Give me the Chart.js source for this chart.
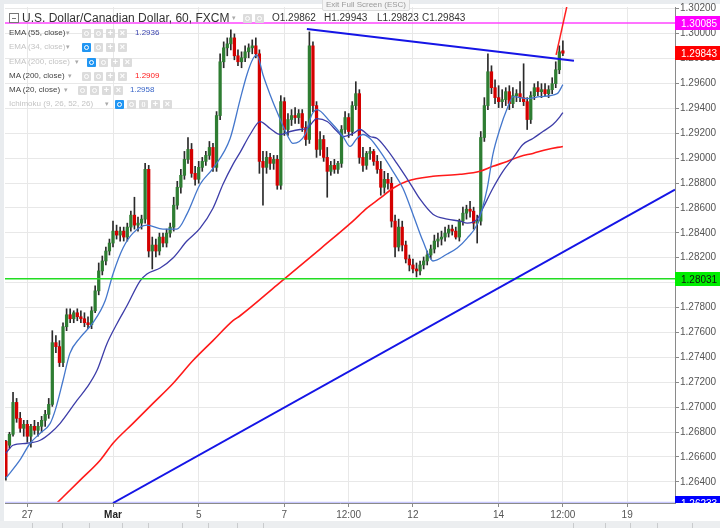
<!DOCTYPE html>
<html lang="en">
<head>
<meta charset="UTF-8">
<title>U.S. Dollar/Canadian Dollar, 60, FXCM</title>
<script src="https://cdn.jsdelivr.net/npm/chart.js"></script>
<style>
  html, body { margin: 0; padding: 0; background: #fff; }
  #wrap { position: relative; width: 720px; height: 528px; overflow: hidden; font-family: "Liberation Sans", Arial, sans-serif; }
  #chart { position: absolute; left: 0; top: 0; }
  .abs { position: absolute; white-space: nowrap; }
  .title { left: 22px; top: 11px; font-size: 12px; line-height: 14px; color: #333; }
  .ohlc { top: 12px; font-size: 10px; line-height: 12px; color: #333; }
  .esc { left: 322px; top: -4px; width: 86px; height: 13px; background: #f4f4f4; border: 1px solid #dcdcdc; border-radius: 2px; color: #9a9a9a; font-size: 8px; line-height: 15px; text-align: center; }
  .lg { font-size: 8px; line-height: 10px; color: #444; }
  .lg.off { color: #c3c3c3; }
  .caret { font-size: 7px; line-height: 10px; color: #aaa; }
  .ic { position: absolute; width: 9px; height: 9px; background: #dcdcdc; border-radius: 1px; color: #fff; font-size: 9px; line-height: 9px; text-align: center; font-weight: bold; }
  .ic.on { background: #2196f3; }
  .ring { position: absolute; left: 2px; top: 2px; width: 3px; height: 3px; border: 1px solid #fff; border-radius: 50%; }
  .box { left: 9px; top: 13px; width: 8px; height: 8px; border: 1px solid #777; }
  .box:after { content: ""; position: absolute; left: 2px; top: 4px; width: 4px; height: 1px; background: #777; }
</style>
</head>
<body>
<div id="wrap">
  <canvas id="chart" width="720" height="528"></canvas>
  <div class="abs box"></div>
  <div class="abs title">U.S. Dollar/Canadian Dollar, 60, FXCM</div>
  <div class="abs caret" style="left:232px; top:13px;">▾</div>
  <div class="abs ic" style="left:243px; top:14px;"><span class="ring"></span></div>
  <div class="abs ic" style="left:255px; top:14px;"><span class="ring"></span></div>
  <div class="abs ohlc" style="left:272px;">O1.29862</div>
  <div class="abs ohlc" style="left:324px;">H1.29943</div>
  <div class="abs ohlc" style="left:377px;">L1.29823</div>
  <div class="abs ohlc" style="left:422px;">C1.29843</div>
  <div class="abs esc">Exit Full Screen (ESC)</div>
  <div id="legend"></div>
</div>

<script>
// 2-hour candles, index 0 = 26 Feb 12:00, 12 bars per trading day
const opens = [1.26726,1.26694,1.26782,1.27038,1.26910,1.26830,1.26862,1.26766,1.26846,1.26814,
  1.26846,1.26894,1.26942,1.27022,1.27518,1.27486,1.27358,1.27646,1.27742,1.27710,
  1.27758,1.27726,1.27710,1.27678,1.27662,1.27774,1.27934,1.28094,1.28174,1.28254,
  1.28318,1.28414,1.28382,1.28414,1.28366,1.28446,1.28542,1.28462,1.28478,1.28510,
  1.28910,1.28254,1.28302,1.28254,1.28366,1.28318,1.28398,1.28446,1.28622,1.28766,
  1.28862,1.28990,1.29070,1.28878,1.28830,1.28926,1.28974,1.29022,1.29086,1.28926,
  1.29342,1.29774,1.29886,1.29918,1.29966,1.29822,1.29774,1.29806,1.29854,1.29886,
  1.29902,1.29838,1.28974,1.28926,1.29006,1.28958,1.28990,1.28782,1.29454,1.29230,
  1.29310,1.29342,1.29326,1.29358,1.29246,1.29150,1.29902,1.29422,1.29070,1.29150,
  1.29006,1.28894,1.28942,1.28910,1.28958,1.29230,1.29326,1.29214,1.29422,1.29518,
  1.29006,1.28942,1.29038,1.29054,1.28974,1.28910,1.28766,1.28830,1.28798,1.28494,
  1.28286,1.28446,1.28302,1.28190,1.28142,1.28110,1.28094,1.28142,1.28174,1.28222,
  1.28270,1.28334,1.28350,1.28366,1.28398,1.28430,1.28414,1.28366,1.28494,1.28558,
  1.28590,1.28574,1.28478,1.28494,1.29166,1.29422,1.29694,1.29566,1.29486,1.29454,
  1.29470,1.29534,1.29438,1.29502,1.29518,1.29486,1.29454,1.29310,1.29502,1.29566,
  1.29534,1.29550,1.29518,1.29550,1.29598,1.29710,1.29862];
const highs = [1.26734,1.26798,1.27118,1.27070,1.26958,1.26894,1.26894,1.26862,1.26894,1.26878,
  1.26926,1.26974,1.27070,1.27614,1.27574,1.27534,1.27678,1.27790,1.27790,1.27774,
  1.27790,1.27774,1.27758,1.27726,1.27806,1.27974,1.28158,1.28214,1.28286,1.28350,
  1.28494,1.28462,1.28446,1.28446,1.28478,1.28574,1.28686,1.28526,1.28542,1.28958,
  1.28942,1.28366,1.28350,1.28398,1.28398,1.28430,1.28478,1.28686,1.28814,1.28910,
  1.29054,1.29166,1.29118,1.28934,1.28974,1.29006,1.29054,1.29134,1.29118,1.29374,
  1.29838,1.29934,1.29966,1.30030,1.29998,1.29870,1.29854,1.29902,1.29918,1.29950,
  1.29966,1.29870,1.29054,1.29054,1.29038,1.29022,1.29022,1.29502,1.29486,1.29358,
  1.29390,1.29406,1.29390,1.29390,1.29294,1.30014,1.29934,1.29454,1.29214,1.29182,
  1.29086,1.28974,1.28990,1.28974,1.29262,1.29374,1.29358,1.29454,1.29614,1.29550,
  1.29086,1.29054,1.29086,1.29070,1.29022,1.28974,1.28894,1.28878,1.28846,1.28542,
  1.28510,1.28494,1.28334,1.28222,1.28190,1.28158,1.28174,1.28206,1.28254,1.28302,
  1.28382,1.28398,1.28414,1.28446,1.28462,1.28462,1.28446,1.28510,1.28606,1.28622,
  1.28654,1.28606,1.28542,1.29214,1.29486,1.29838,1.29742,1.29630,1.29582,1.29550,
  1.29566,1.29582,1.29566,1.29550,1.29614,1.29758,1.29486,1.29534,1.29598,1.29614,
  1.29598,1.29598,1.29582,1.29646,1.29774,1.29902,1.29943];
const lows = [1.26414,1.26670,1.26766,1.26878,1.26798,1.26766,1.26718,1.26678,1.26782,1.26766,
  1.26798,1.26846,1.26910,1.27006,1.27438,1.27326,1.27326,1.27614,1.27678,1.27678,
  1.27694,1.27678,1.27646,1.27630,1.27630,1.27758,1.27902,1.28062,1.28142,1.28222,
  1.28286,1.28350,1.28334,1.28334,1.28334,1.28414,1.28430,1.28414,1.28430,1.28478,
  1.28206,1.28110,1.28206,1.28222,1.28286,1.28286,1.28366,1.28414,1.28590,1.28718,
  1.28830,1.28958,1.28846,1.28782,1.28798,1.28894,1.28942,1.28990,1.28894,1.28894,
  1.29310,1.29726,1.29822,1.29870,1.29790,1.29742,1.29726,1.29774,1.29806,1.29838,
  1.29806,1.28878,1.28622,1.28878,1.28910,1.28910,1.28750,1.28750,1.29182,1.29182,
  1.29262,1.29278,1.29278,1.29214,1.29102,1.29118,1.29374,1.29006,1.29022,1.28974,
  1.28686,1.28862,1.28878,1.28878,1.28926,1.29198,1.29166,1.29182,1.29390,1.28958,
  1.28894,1.28910,1.28990,1.28942,1.28878,1.28702,1.28718,1.28750,1.28446,1.28206,
  1.28254,1.28254,1.28158,1.28094,1.28078,1.28046,1.28062,1.28110,1.28142,1.28190,
  1.28238,1.28286,1.28302,1.28334,1.28366,1.28382,1.28350,1.28334,1.28462,1.28510,
  1.28526,1.28430,1.28318,1.28462,1.29134,1.29390,1.29518,1.29438,1.29406,1.29406,
  1.29422,1.29390,1.29406,1.29454,1.29454,1.29422,1.29230,1.29278,1.29470,1.29502,
  1.29486,1.29502,1.29486,1.29518,1.29566,1.29678,1.29823];
const closes = [1.26446,1.26782,1.27038,1.26910,1.26830,1.26862,1.26766,1.26846,1.26814,1.26846,
  1.26894,1.26942,1.27022,1.27518,1.27486,1.27358,1.27646,1.27742,1.27710,1.27758,
  1.27726,1.27710,1.27678,1.27662,1.27774,1.27934,1.28094,1.28174,1.28254,1.28318,
  1.28414,1.28382,1.28414,1.28366,1.28446,1.28542,1.28462,1.28478,1.28510,1.28910,
  1.28254,1.28302,1.28254,1.28366,1.28318,1.28398,1.28446,1.28622,1.28766,1.28862,
  1.28990,1.29070,1.28878,1.28830,1.28926,1.28974,1.29022,1.29086,1.28926,1.29342,
  1.29774,1.29886,1.29918,1.29966,1.29822,1.29774,1.29806,1.29854,1.29886,1.29902,
  1.29838,1.28974,1.28926,1.29006,1.28958,1.28990,1.28782,1.29454,1.29230,1.29310,
  1.29342,1.29326,1.29358,1.29246,1.29150,1.29902,1.29422,1.29070,1.29150,1.29006,
  1.28894,1.28942,1.28910,1.28958,1.29230,1.29326,1.29214,1.29422,1.29518,1.29006,
  1.28942,1.29038,1.29054,1.28974,1.28910,1.28766,1.28830,1.28798,1.28494,1.28286,
  1.28446,1.28302,1.28190,1.28142,1.28110,1.28094,1.28142,1.28174,1.28222,1.28270,
  1.28334,1.28350,1.28366,1.28398,1.28430,1.28414,1.28366,1.28494,1.28558,1.28590,
  1.28574,1.28478,1.28494,1.29166,1.29422,1.29694,1.29566,1.29486,1.29454,1.29470,
  1.29534,1.29438,1.29502,1.29518,1.29486,1.29454,1.29310,1.29502,1.29566,1.29534,
  1.29550,1.29518,1.29550,1.29598,1.29710,1.29854,1.29843];

// indicator lines, read at a set of bar positions
const ma20Idx = [0,3.9,6.8,9.6,12.4,13.8,16,17.9,20.8,24.4,27.8,30,32.8,35.6,39.5,44,47.9,50.7,54.4,58,
  62.8,65.6,67.5,69.2,70.3,72,74,75.9,79,80.4,83.8,85.7,87.1,90.8,94.4,96.4,98.3,100,102,104.8,
  108.4,111.2,114,116.8,119.6,123.6,126.4,129.2,132,134.8,136.4,138.4,140.4,142.1,146,149.6,154.4,156];
const ma20 = [1.26430,1.26574,1.26710,1.26790,1.26870,1.26974,1.27214,1.27430,1.27558,1.27678,
  1.27854,1.28070,1.28278,1.28398,1.28462,1.28430,1.28430,1.28550,1.28790,1.28918,
  1.29158,1.29470,1.29670,1.29798,1.29830,1.29670,1.29510,1.29374,1.29174,1.29118,
  1.29190,1.29350,1.29390,1.29294,1.29174,1.29094,1.29158,1.29190,1.29158,1.29054,
  1.28894,1.28758,1.28550,1.28334,1.28174,1.28230,1.28278,1.28358,1.28470,1.28758,
  1.29030,1.29238,1.29398,1.29494,1.29478,1.29494,1.29518,1.29590];
const ema55Idx = [0,2,5.9,9.6,12.4,15.2,19.9,22.7,25.5,28.3,31.1,33.9,37.6,39.5,43.2,46.8,50.7,54.4,58,60.8,
  63.6,65.6,68.4,71.2,74,76.8,79.6,82.4,84.3,87.1,90,92.8,94.4,97.2,99.2,102,104,106.7,109.5,113.2,
  116,119.6,123.6,127.2,129.2,132,133.6,136.4,139.2,142,144.8,147.6,150.4,153.2,155.2,156];
const ema55 = [1.26630,1.26694,1.26710,1.26734,1.26790,1.26870,1.27054,1.27158,1.27294,1.27510,
  1.27670,1.27814,1.28014,1.28070,1.28118,1.28198,1.28334,1.28438,1.28598,1.28790,
  1.28950,1.29046,1.29190,1.29294,1.29238,1.29190,1.29214,1.29230,1.29238,1.29318,
  1.29294,1.29214,1.29174,1.29198,1.29230,1.29174,1.29158,1.29070,1.28958,1.28798,
  1.28670,1.28550,1.28510,1.28494,1.28478,1.28510,1.28598,1.28758,1.28894,1.28998,
  1.29110,1.29158,1.29214,1.29270,1.29334,1.29366];
const ma200Idx = [12,16,20.8,26.4,30,35.6,41.2,46.8,52.4,58,63.6,65.6,76,88,97.2,101.1,104.8,108.4,112.3,119.6,
  127.2,132.8,136.4,140.4,144,147.6,151.6,156];
const ma200 = [1.26166,1.26278,1.26414,1.26574,1.26710,1.26870,1.27030,1.27190,1.27374,1.27534,
  1.27694,1.27734,1.27982,1.28270,1.28494,1.28598,1.28678,1.28758,1.28814,1.28854,
  1.28870,1.28894,1.28934,1.28974,1.29014,1.29038,1.29070,1.29094];

// drawn trend lines and horizontal levels
const resistanceIdx = [84.3, 159.1];
const resistance = [1.30038, 1.29782];
const supportIdx = [30, 187.4];
const support = [1.26230, 1.28748];
const breakoutIdx = [154.1, 157.2];
const breakout = [1.29830, 1.30230];
const levelHigh = 1.30085;
const levelLow = 1.28031;
const levelBottom = 1.26233;
const lastClose = 1.29843;

// axes
const timeTickIdx = [6, 30, 54, 78, 96, 114, 138, 156, 174];
const timeLabels = ['27', 'Mar', '5', '7', '12:00', '12', '14', '12:00', '19'];
const priceTicks = [1.264, 1.266, 1.268, 1.270, 1.272, 1.274, 1.276, 1.278, 1.280, 1.282,
  1.284, 1.286, 1.288, 1.290, 1.292, 1.294, 1.296, 1.298, 1.300, 1.302];
const xMin = -0.25, xMax = 187.4;
const yMin = 1.26230, yMax = 1.30214;

// legend rows (text, value)
const legendRows = [
  { text: 'EMA (55, close)', value: '1.2936', off: false },
  { text: 'EMA (34, close)', value: '', off: true },
  { text: 'EMA (200, close)', value: '', off: true },
  { text: 'MA (200, close)', value: '1.2909', off: false },
  { text: 'MA (20, close)', value: '1.2958', off: false },
  { text: 'Ichimoku (9, 26, 52, 26)', value: '', off: true }
];
const legendLayout = [
  { top: 28, caret: 66, icons: 82, vx: 135, color: '#3d46b0', kinds: ['eye', 'gear', 'plus', 'x'] },
  { top: 42, caret: 66, icons: 82, vx: 0, color: '', kinds: ['eyeOn', 'gear', 'plus', 'x'] },
  { top: 57, caret: 75, icons: 87, vx: 0, color: '', kinds: ['eyeOn', 'gear', 'plus', 'x'] },
  { top: 71, caret: 68, icons: 82, vx: 135, color: '#ff1a1a', kinds: ['eye', 'gear', 'plus', 'x'] },
  { top: 85, caret: 64, icons: 78, vx: 130, color: '#3a66c8', kinds: ['eye', 'gear', 'plus', 'x'] },
  { top: 99, caret: 105, icons: 115, vx: 0, color: '', kinds: ['eyeOn', 'gear', 'paren', 'plus', 'x'] }
];

function buildLegend() {
  const host = document.getElementById('legend');
  legendRows.forEach((row, r) => {
    const lay = legendLayout[r];
    const t = document.createElement('div');
    t.className = 'abs lg' + (row.off ? ' off' : '');
    t.style.left = '9px';
    t.style.top = lay.top + 'px';
    t.textContent = row.text;
    host.appendChild(t);
    const c = document.createElement('div');
    c.className = 'abs caret';
    c.style.left = lay.caret + 'px';
    c.style.top = lay.top + 'px';
    c.textContent = '▾';
    host.appendChild(c);
    lay.kinds.forEach((k, j) => {
      const ic = document.createElement('div');
      ic.className = 'ic' + (k === 'eyeOn' ? ' on' : '');
      ic.style.left = (lay.icons + j * 12) + 'px';
      ic.style.top = (lay.top + 1) + 'px';
      if (k === 'plus') ic.textContent = '+';
      else if (k === 'x') ic.textContent = '×';
      else if (k === 'paren') { ic.textContent = '()'; ic.style.fontSize = '6px'; }
      else ic.innerHTML = '<span class="ring"></span>';
      host.appendChild(ic);
    });
    if (row.value) {
      const v = document.createElement('div');
      v.className = 'abs lg';
      v.style.left = lay.vx + 'px';
      v.style.top = lay.top + 'px';
      v.style.color = lay.color;
      v.textContent = row.value;
      host.appendChild(v);
    }
  });
}

const pts = (idx, vals) => idx.map((x, i) => ({ x: x, y: vals[i] }));
const isUp = i => closes[i] >= opens[i];

// background strips, price tags on the right, bottom toolbar
const framePlugin = {
  id: 'frame',
  beforeDraw(chart) {
    const ctx = chart.ctx;
    ctx.save();
    ctx.fillStyle = '#ffffff';
    ctx.fillRect(0, 0, chart.width, chart.height);
    ctx.fillStyle = '#e9ecef';
    ctx.fillRect(0, 0, chart.width, 4);
    ctx.fillRect(0, 0, 4, chart.height);
    ctx.restore();
  },
  afterDraw(chart) {
    const ctx = chart.ctx;
    const ys = chart.scales.y;
    const a = chart.chartArea;
    const tags = [
      { v: levelHigh, bg: '#ff00ff', fg: '#ffffff' },
      { v: lastClose, bg: '#ff0000', fg: '#ffffff' },
      { v: levelLow, bg: '#00ee00', fg: '#111111' },
      { v: levelBottom, bg: '#0000ff', fg: '#ffffff' }
    ];
    ctx.save();
    ctx.beginPath();
    ctx.rect(a.right, 0, chart.width - a.right, a.bottom);
    ctx.clip();
    ctx.font = '10px "Liberation Sans", Arial, sans-serif';
    ctx.textBaseline = 'middle';
    tags.forEach(t => {
      const y = Math.round(ys.getPixelForValue(t.v));
      ctx.fillStyle = t.bg;
      ctx.fillRect(a.right, y - 7, chart.width - a.right, 14);
      ctx.fillStyle = t.fg;
      ctx.fillText(t.v.toFixed(5), a.right + 6, y + 1.5);
    });
    ctx.restore();

    ctx.save();
    ctx.fillStyle = '#eceef0';
    ctx.fillRect(0, 521, chart.width, 7);
    ctx.fillStyle = '#c9cbcd';
    [32, 62, 89, 122, 148, 182, 208, 237, 263, 573, 605, 630, 657, 692].forEach(x => ctx.fillRect(x, 523, 1, 5));
    ctx.restore();
  }
};

Chart.defaults.font.family = '"Liberation Sans", Arial, sans-serif';

function createChart() {
  const ctx = document.getElementById('chart').getContext('2d');
  const lineDefaults = { type: 'line', pointRadius: 0, fill: false, cubicInterpolationMode: 'monotone' };
  return new Chart(ctx, {
    type: 'bar',
    data: {
      datasets: [
        {
          label: 'wicks',
          data: lows.map((l, i) => ({ x: i, y: [l, highs[i]] })),
          backgroundColor: '#2a2a2a',
          barThickness: 1,
          grouped: false,
          order: 10
        },
        {
          label: 'bodies',
          data: opens.map((o, i) => ({ x: i, y: [o, closes[i]] })),
          backgroundColor: c => isUp(c.dataIndex) ? '#2e7d32' : '#d40000',
          barThickness: 2.6,
          minBarLength: 1,
          grouped: false,
          order: 9
        },
        Object.assign({}, lineDefaults, { label: 'MA 200', data: pts(ma200Idx, ma200), borderColor: '#ff1a1a', borderWidth: 1.6, order: 5 }),
        Object.assign({}, lineDefaults, { label: 'EMA 55', data: pts(ema55Idx, ema55), borderColor: '#3d3da8', borderWidth: 1.3, order: 4 }),
        Object.assign({}, lineDefaults, { label: 'MA 20', data: pts(ma20Idx, ma20), borderColor: '#4477cc', borderWidth: 1.3, order: 3 }),
        Object.assign({}, lineDefaults, { label: 'level high', data: [{ x: xMin, y: levelHigh }, { x: xMax, y: levelHigh }], borderColor: '#ff44ff', borderWidth: 1.5, order: 2 }),
        Object.assign({}, lineDefaults, { label: 'level low', data: [{ x: xMin, y: levelLow }, { x: xMax, y: levelLow }], borderColor: '#22dd22', borderWidth: 1.5, order: 2 }),
        Object.assign({}, lineDefaults, { label: 'level bottom', data: [{ x: xMin, y: levelBottom }, { x: xMax, y: levelBottom }], borderColor: '#c8c8ff', borderWidth: 2, order: 2 }),
        Object.assign({}, lineDefaults, { label: 'resistance', data: pts(resistanceIdx, resistance), borderColor: '#1515e6', borderWidth: 2, order: 1 }),
        Object.assign({}, lineDefaults, { label: 'support', data: pts(supportIdx, support), borderColor: '#1515e6', borderWidth: 2, order: 1 }),
        Object.assign({}, lineDefaults, { label: 'breakout', data: pts(breakoutIdx, breakout), borderColor: '#ff2020', borderWidth: 1.5, order: 1 })
      ]
    },
    options: {
      responsive: false,
      animation: false,
      events: [],
      layout: { padding: { left: 5, top: 5, right: 0, bottom: 0 } },
      plugins: { legend: { display: false }, tooltip: { enabled: false } },
      scales: {
        x: {
          type: 'linear',
          min: xMin,
          max: xMax,
          offset: false,
          afterFit: s => { s.height = 25; },
          afterBuildTicks: s => { s.ticks = timeTickIdx.map(v => ({ value: v })); },
          grid: { color: '#e8e8e8', offset: false, tickLength: 4, tickColor: '#8a8a8a' },
          border: { color: '#8a8a8a' },
          ticks: {
            autoSkip: false,
            maxRotation: 0,
            padding: 2,
            color: c => c.index === 1 ? '#222' : '#555',
            font: c => ({ size: 10, weight: c.index === 1 ? 'bold' : 'normal' }),
            callback: v => timeLabels[timeTickIdx.indexOf(v)]
          }
        },
        y: {
          type: 'linear',
          position: 'right',
          min: yMin,
          max: yMax,
          beginAtZero: false,
          afterFit: s => { s.width = 45; },
          afterBuildTicks: s => { s.ticks = priceTicks.map(v => ({ value: v })); },
          grid: { color: '#e8e8e8', tickLength: 4, tickColor: '#8a8a8a' },
          border: { color: '#8a8a8a' },
          ticks: {
            padding: 1,
            color: '#555',
            font: { size: 10 },
            callback: v => v.toFixed(5)
          }
        }
      }
    },
    plugins: [framePlugin]
  });
}

buildLegend();
createChart();
</script>
</body>
</html>
